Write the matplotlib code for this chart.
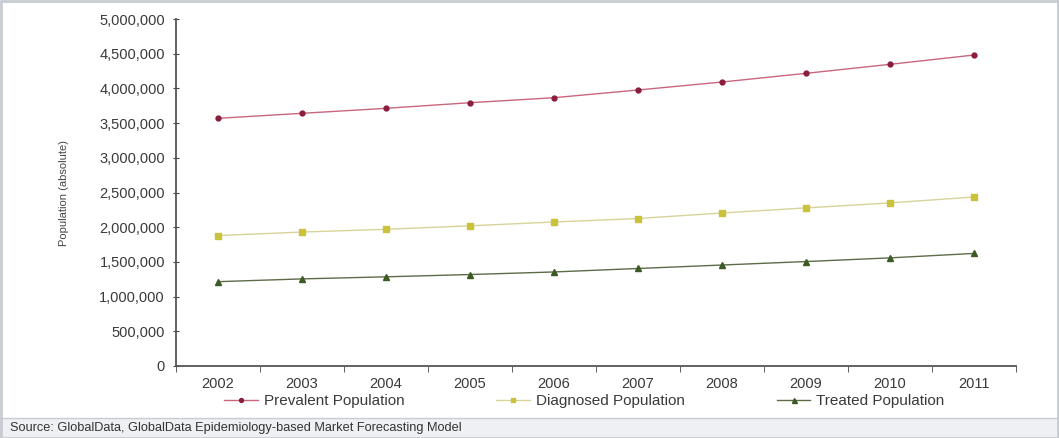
import numpy as np
import matplotlib.pyplot as plt
from matplotlib.ticker import FuncFormatter
from matplotlib.patches import Rectangle

plt.rcParams['font.family'] = ['Liberation Sans', 'DejaVu Sans']

# data
years = ['2002', '2003', '2004', '2005', '2006', '2007', '2008', '2009', '2010', '2011']
prevalent = [3569000, 3641000, 3713000, 3794000, 3866000, 3977000, 4092000, 4217000, 4347000, 4481000]
diagnosed = [1880000, 1930000, 1970000, 2020000, 2075000, 2125000, 2205000, 2278000, 2350000, 2435000]
treated = [1215000, 1255000, 1285000, 1318000, 1355000, 1405000, 1455000, 1505000, 1558000, 1622000]

fig = plt.figure(figsize=(10.59, 4.38), dpi=100)
ax = fig.add_axes([0.1662, 0.1644, 0.7932, 0.7922])

x = np.arange(len(years))
ax.plot(x, prevalent, color='#c9667e', lw=1.0, marker='o', ms=3.5,
        mfc='#8a1c3c', mec='#8a1c3c', label='Prevalent Population')
ax.plot(x, diagnosed, color='#d9d39a', lw=1.0, marker='s', ms=4,
        mfc='#c9c23a', mec='#c9c23a', label='Diagnosed Population')
ax.plot(x, treated, color='#5d6b48', lw=1.0, marker='^', ms=4.5,
        mfc='#3d5a22', mec='#3d5a22', label='Treated Population')

ax.set_xlim(-0.5, len(years) - 0.5)
ax.set_ylim(0, 5000000)
ax.set_yticks(np.arange(0, 5000001, 500000))
ax.yaxis.set_major_formatter(FuncFormatter(lambda v, p: f'{int(v):,}'))
ax.set_xticks(x)
ax.set_xticklabels(years)
ax.set_xticks(np.arange(-0.5, len(years)), minor=True)
ax.tick_params(axis='x', which='major', length=0, pad=8, labelsize=10.5, colors='#3a3a3a')
ax.tick_params(axis='x', which='minor', length=4, direction='out', color='#444444')
ax.tick_params(axis='y', length=4, direction='inout', labelsize=10.5, colors='#3a3a3a', pad=6)
ax.tick_params(axis='y', color='#444444')

for s in ['top', 'right']:
    ax.spines[s].set_visible(False)
for s in ['left', 'bottom']:
    ax.spines[s].set_color('#555555')
    ax.spines[s].set_linewidth(1.3)

ax.set_ylabel('Population (absolute)', fontsize=8, color='#444444', labelpad=22)

fig.legend(loc='center', bbox_to_anchor=(0.552, 0.084), ncol=3, frameon=False,
           fontsize=11, columnspacing=6, handlelength=2.2, handletextpad=0.4,
           markerscale=0.8, labelcolor='#3a3a3a')

# source band at the bottom
fig.patches.append(Rectangle((0, 0), 1, 20 / 438, transform=fig.transFigure,
                             facecolor='#eef0f3', edgecolor='#c8ccd2', lw=1, zorder=0))
fig.text(10 / 1059, 10 / 438, 'Source: GlobalData, GlobalData Epidemiology-based Market Forecasting Model',
         fontsize=9.2, color='#333333', va='center', ha='left')

# outer frame
fig.patches.append(Rectangle((0.001, 0.001), 0.998, 0.997, transform=fig.transFigure,
                             facecolor='none', edgecolor='#c8ccd2', lw=2, zorder=5))

fig.savefig('out.png', dpi=100)
